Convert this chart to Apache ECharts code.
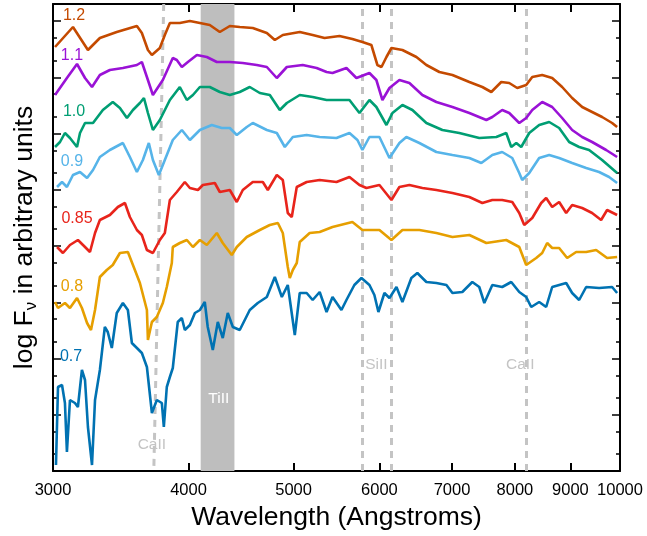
<!DOCTYPE html>
<html><head><meta charset="utf-8">
<script src="https://cdn.jsdelivr.net/npm/echarts@6/dist/echarts.min.js"></script>
<style>html,body{margin:0;padding:0;background:#fff}#c{width:647px;height:536px}</style>
</head><body><div id="c"></div>
<script>
// wavelength in Angstroms, log F_nu in arbitrary units (one decade = DECADE units)
const DECADE = 56.25;
const X_TICKS = [3000, 4000, 5000, 6000, 7000, 8000, 9000, 10000];
const Y_DECADES = [0, 1, 2, 3, 4, 5, 6, 7, 8];

const PHASES = ['1.2', '1.1', '1.0', '0.9', '0.85', '0.8', '0.7'];
const COLORS = ['#C44A00', '#9A12D6', '#009E73', '#56B4E9', '#E8241B', '#E69F00', '#0072B2'];
const LABEL_POS = [[3137,455],[3123,415],[3137,359],[3123,309],[3157,252],[3123,184],[3117,114]];

const spec12 = [[3013,424],[3130,444],[3231,421],[3314,433],[3435,439],[3585,445],[3623,438],[3670,421],[3701,416],[3764,423],[3804,436],[3845,448],[3927,448],[4012,450],[4098,448],[4185,446],[4275,439],[4367,445],[4460,444],[4585,443],[4724,438],[4805,431],[4887,436],[5066,439],[5207,436],[5340,433],[5512,435],[5665,432],[5787,429],[5898,426],[5974,406],[6026,404],[6090,414],[6155,423],[6300,421],[6490,414],[6629,406],[6814,399],[7006,396],[7262,389],[7465,384],[7609,379],[7771,389],[7904,388],[8040,383],[8194,386],[8300,394],[8477,396],[8659,393],[8844,384],[9034,373],[9228,364],[9425,359],[9627,354],[9834,348],[9939,344]];
const spec11 = [[3013,376],[3090,393],[3157,407],[3211,393],[3259,384],[3314,396],[3385,401],[3480,403],[3585,406],[3623,409],[3662,394],[3709,376],[3788,391],[3869,413],[3902,411],[3944,404],[3995,409],[4072,416],[4159,414],[4248,409],[4367,409],[4489,408],[4624,406],[4724,404],[4825,393],[4929,404],[5098,406],[5251,403],[5363,399],[5431,398],[5594,403],[5714,393],[5874,398],[5961,391],[6038,371],[6129,383],[6260,391],[6394,388],[6573,376],[6771,369],[7006,364],[7262,358],[7529,351],[7625,354],[7787,361],[7904,358],[8074,348],[8194,353],[8300,361],[8477,369],[8659,364],[8844,353],[9034,341],[9228,334],[9425,329],[9710,321],[9939,314]];
const spec10 = [[3013,324],[3045,329],[3077,338],[3110,333],[3157,324],[3177,338],[3211,348],[3266,348],[3335,361],[3406,369],[3458,363],[3510,353],[3555,361],[3608,368],[3639,373],[3670,358],[3709,341],[3764,351],[3845,371],[3927,384],[3986,371],[4038,376],[4098,384],[4185,384],[4275,379],[4367,376],[4460,379],[4556,384],[4654,378],[4754,376],[4856,361],[4929,368],[5066,376],[5207,374],[5363,371],[5431,371],[5630,371],[5751,358],[5874,371],[5961,364],[6090,346],[6168,358],[6300,366],[6435,361],[6629,348],[6858,341],[7109,338],[7417,333],[7690,334],[7854,338],[7938,324],[8023,328],[8108,324],[8247,338],[8423,346],[8604,349],[8788,343],[8977,329],[9169,324],[9365,321],[9627,311],[9939,298]];
const spec09 = [[3026,284],[3058,289],[3090,284],[3130,296],[3177,299],[3225,293],[3266,301],[3314,314],[3385,321],[3480,328],[3532,314],[3585,299],[3631,311],[3677,328],[3709,311],[3756,296],[3804,311],[3869,331],[3944,341],[4012,331],[4098,341],[4203,346],[4293,343],[4367,343],[4432,336],[4527,344],[4585,348],[4724,341],[4825,338],[4908,324],[4992,334],[5141,336],[5285,334],[5477,333],[5630,338],[5726,331],[5787,321],[5874,334],[6000,334],[6129,313],[6260,328],[6353,334],[6531,328],[6771,319],[7006,316],[7262,313],[7449,308],[7625,316],[7787,319],[7955,313],[8074,298],[8125,291],[8247,298],[8423,313],[8604,316],[8788,313],[9034,308],[9307,303],[9566,299],[9771,294],[9939,288]];
const spec085 = [[3026,224],[3064,218],[3110,226],[3163,231],[3211,224],[3245,219],[3280,238],[3314,251],[3385,256],[3443,264],[3495,268],[3532,254],[3585,241],[3623,236],[3662,221],[3709,218],[3764,231],[3804,238],[3845,271],[3902,279],[3969,289],[4012,283],[4081,281],[4124,286],[4230,288],[4275,279],[4367,281],[4432,269],[4489,281],[4585,289],[4684,289],[4734,281],[4825,296],[4887,291],[4939,258],[4981,254],[5034,284],[5141,289],[5285,291],[5477,289],[5630,294],[5751,286],[5837,283],[6000,286],[6155,271],[6260,284],[6394,286],[6573,283],[6771,281],[7006,278],[7262,274],[7465,268],[7625,271],[7787,271],[7955,269],[8074,258],[8160,246],[8300,253],[8459,268],[8549,273],[8659,264],[8788,269],[8920,258],[9034,266],[9228,263],[9425,258],[9607,251],[9730,261],[9939,256]];
const spec08 = [[3013,169],[3032,163],[3077,168],[3110,163],[3157,173],[3190,163],[3225,148],[3252,141],[3280,161],[3314,194],[3363,201],[3406,206],[3458,218],[3517,219],[3555,206],[3608,188],[3662,161],[3670,131],[3701,149],[3740,154],[3788,168],[3820,184],[3861,208],[3869,224],[3927,228],[3986,231],[4038,224],[4098,231],[4159,226],[4248,238],[4302,228],[4385,216],[4432,224],[4527,234],[4654,241],[4754,246],[4836,248],[4887,238],[4939,204],[4960,193],[4992,201],[5034,208],[5066,229],[5174,238],[5285,239],[5431,244],[5665,249],[5787,241],[6000,241],[6155,231],[6300,241],[6531,241],[6771,238],[7006,234],[7262,236],[7529,228],[7854,231],[8074,224],[8194,206],[8370,213],[8477,218],[8567,228],[8659,223],[8788,223],[8939,213],[9111,219],[9307,219],[9506,221],[9730,213],[9939,214]];
const spec07 = [[3019,6],[3032,84],[3058,86],[3077,68],[3090,19],[3110,71],[3143,68],[3163,64],[3190,101],[3211,91],[3231,44],[3259,6],[3280,71],[3314,101],[3349,144],[3370,139],[3399,123],[3435,158],[3480,168],[3517,161],[3547,128],[3585,123],[3623,118],[3662,104],[3701,58],[3740,71],[3780,68],[3796,44],[3820,84],[3845,94],[3869,103],[3910,149],[3944,153],[3969,141],[4012,146],[4055,158],[4098,161],[4141,169],[4167,144],[4212,121],[4257,149],[4302,133],[4348,158],[4395,144],[4460,141],[4556,161],[4634,168],[4724,174],[4805,194],[4877,174],[4939,186],[5013,136],[5066,178],[5141,178],[5207,171],[5285,179],[5363,159],[5431,174],[5535,161],[5594,171],[5689,186],[5775,193],[5874,186],[5936,176],[5987,159],[6064,178],[6129,173],[6221,184],[6300,169],[6421,193],[6503,198],[6629,189],[6771,188],[6917,186],[7006,178],[7155,179],[7308,189],[7417,184],[7497,168],[7625,186],[7787,184],[7938,189],[8074,179],[8194,174],[8282,164],[8423,169],[8549,164],[8659,184],[8920,188],[9034,178],[9169,171],[9307,184],[9566,183],[9834,184],[9939,178]];
const SPECTRA = [spec12, spec11, spec10, spec09, spec085, spec08, spec07];

// line identifications
const CAII_UV_LINE = [[3795, 467], [3716, 0]];
const SIII_LINES = [5790, 6150];
const CAII_IR_LINE = 8200;
const TIII_BAND = [4105, 4410];
const ANNOT_TEXT = ['CaII', 'TiII', 'SiII', 'CaII'];
const ANNOT_POS = [[3701, 26], [4266, 72], [5961, 106], [8091, 106]];
const ANNOT_COLOR = ['#c4c4c4', '#ffffff', '#c4c4c4', '#c4c4c4'];

const FONT = 'Liberation Sans, Arial, Helvetica, sans-serif';
const majors = Y_DECADES.map(n => n * DECADE);
const minors = [];
Y_DECADES.forEach(n => { minors.push((n + Math.log10(2)) * DECADE, (n + Math.log10(5)) * DECADE); });
const yMax = 467;
const X_TICK_LEN = 8; // inward tick length, in y-axis units
const xMin = X_TICKS[0], xMax = X_TICKS[X_TICKS.length - 1];
const xInner = X_TICKS.slice(1, -1);

function yAx(pos, vals, len, show) {
  return {
    type: 'value', min: 0, max: yMax, position: pos, offset: 0,
    axisLine: { show: show, onZero: false, lineStyle: { color: '#000', width: 2 } },
    axisTick: { show: true, inside: true, length: len, customValues: vals, lineStyle: { color: '#000', width: 1.5 } },
    axisLabel: { show: false }, splitLine: { show: false }
  };
}

const dashStyle = { color: '#c4c4c4', width: 3, type: [7, 6] };
const tickStyle = { color: '#000000', width: 2, type: 'solid', opacity: 1 };
const xTickLines = [];
xInner.forEach(v => {
  xTickLines.push([{ coord: [v, 0] }, { coord: [v, X_TICK_LEN] }]);
  xTickLines.push([{ coord: [v, yMax] }, { coord: [v, yMax - X_TICK_LEN] }]);
});

const series = SPECTRA.map((d, i) => ({
  type: 'line', name: PHASES[i], data: d, showSymbol: false, smooth: false, z: 5,
  lineStyle: { color: COLORS[i], width: 2.6 }, itemStyle: { color: COLORS[i] },
  markPoint: {
    symbol: 'circle', symbolSize: 1, itemStyle: { color: 'rgba(0,0,0,0)' },
    label: { show: true, position: 'inside', color: COLORS[i], fontSize: 16, fontFamily: FONT, formatter: PHASES[i] },
    data: [{ coord: LABEL_POS[i] }]
  }
}));
series.unshift({
  type: 'line', name: 'ids', data: [], z: 1, silent: true,
  markArea: { silent: true, itemStyle: { color: '#bebebe', opacity: 1 }, data: [[{ xAxis: TIII_BAND[0] }, { xAxis: TIII_BAND[1] }]] },
  markLine: {
    silent: true, symbol: ['none', 'none'], lineStyle: dashStyle, label: { show: false },
    data: [
      { xAxis: SIII_LINES[0] }, { xAxis: SIII_LINES[1] }, { xAxis: CAII_IR_LINE },
      [{ coord: CAII_UV_LINE[0] }, { coord: CAII_UV_LINE[1] }]
    ]
  },
  markPoint: {
    symbol: 'circle', symbolSize: 1, itemStyle: { color: 'rgba(0,0,0,0)' },
    data: ANNOT_POS.map((p, i) => ({
      coord: p,
      label: { show: true, position: 'inside', formatter: ANNOT_TEXT[i], color: ANNOT_COLOR[i], fontSize: 15.5, fontFamily: FONT }
    }))
  }
});
// x-axis frame ticks (bottom and top), drawn on the log wavelength scale
series.push({
  type: 'line', name: 'xticks', data: [], z: 8, silent: true,
  markLine: { silent: true, symbol: ['none', 'none'], label: { show: false }, lineStyle: tickStyle, emphasis: { disabled: true }, data: xTickLines }
});

const chart = echarts.init(document.getElementById('c'), null, { renderer: 'canvas' });
chart.setOption({
  animation: false,
  backgroundColor: '#fff',
  textStyle: { fontFamily: FONT },
  grid: { left: 53, right: 27, top: 4, bottom: 65, containLabel: false },
  xAxis: [
    {
      type: 'log', logBase: 10, min: xMin, max: xMax, position: 'bottom',
      axisLine: { onZero: false, lineStyle: { color: '#000', width: 2 } },
      axisTick: { show: true, inside: true, length: 8, customValues: xInner, lineStyle: { color: '#000', width: 2 } },
      axisLabel: { show: true, customValues: X_TICKS, formatter: v => String(Math.round(v)), color: '#000', fontSize: 16.5, margin: 11, fontFamily: FONT },
      splitLine: { show: false },
      name: 'Wavelength (Angstroms)', nameLocation: 'middle', nameGap: 33,
      nameTextStyle: { fontSize: 26.5, color: '#000', fontFamily: FONT }
    },
    {
      type: 'log', logBase: 10, min: xMin, max: xMax, position: 'top',
      axisLine: { onZero: false, lineStyle: { color: '#000', width: 2 } },
      axisTick: { show: true, inside: true, length: 8, customValues: xInner, lineStyle: { color: '#000', width: 2 } },
      axisLabel: { show: false },
      splitLine: { show: false }
    }
  ],
  yAxis: [
    Object.assign(yAx('left', majors, 8, true), {
      name: 'log F{s|ν} in arbitrary units', nameLocation: 'middle', nameGap: 13, nameRotate: 90,
      nameTextStyle: { fontSize: 26.5, color: '#000', fontFamily: FONT, rich: { s: { fontSize: 17, color: '#000', fontFamily: FONT, padding: [14, 0, 0, 0] } } }
    }),
    yAx('left', minors, 4, false),
    yAx('right', majors, 8, true),
    yAx('right', minors, 4, false)
  ],
  series: series
});
</script>
</body></html>
